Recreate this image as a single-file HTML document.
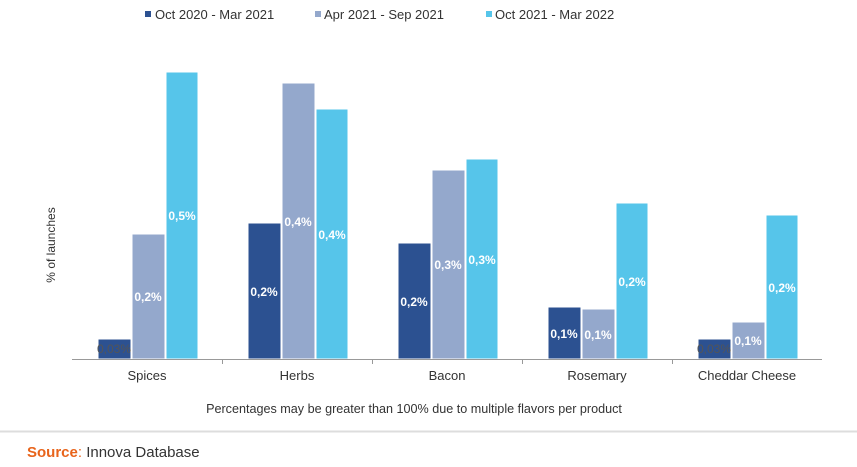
<!DOCTYPE html>
<html><head><meta charset="utf-8"><style>
html,body{margin:0;padding:0;background:#fff;}
svg{display:block;font-family:"Liberation Sans",Arial,sans-serif;}
</style></head><body>
<svg width="857" height="467" viewBox="0 0 857 467">
<g font-size="13" fill="#333">
<rect x="145" y="11" width="6" height="6" fill="#2c5191"/><text x="155" y="19">Oct 2020 - Mar 2021</text>
<rect x="315" y="11" width="6" height="6" fill="#94a8cc"/><text x="324" y="19">Apr 2021 - Sep 2021</text>
<rect x="486" y="11" width="6" height="6" fill="#56c5ea"/><text x="495" y="19">Oct 2021 - Mar 2022</text>
</g>
<text transform="translate(55,245) rotate(-90)" text-anchor="middle" font-size="12" fill="#333">% of launches</text>
<g stroke="#fff" stroke-width="1">
<rect x="98" y="339" width="33" height="20" fill="#2c5191"/>
<rect x="132" y="234" width="33" height="125" fill="#94a8cc"/>
<rect x="166" y="72" width="32" height="287" fill="#56c5ea"/>
<rect x="248" y="223" width="33" height="136" fill="#2c5191"/>
<rect x="282" y="83" width="33" height="276" fill="#94a8cc"/>
<rect x="316" y="109" width="32" height="250" fill="#56c5ea"/>
<rect x="398" y="243" width="33" height="116" fill="#2c5191"/>
<rect x="432" y="170" width="33" height="189" fill="#94a8cc"/>
<rect x="466" y="159" width="32" height="200" fill="#56c5ea"/>
<rect x="548" y="307" width="33" height="52" fill="#2c5191"/>
<rect x="582" y="309" width="33" height="50" fill="#94a8cc"/>
<rect x="616" y="203" width="32" height="156" fill="#56c5ea"/>
<rect x="698" y="339" width="33" height="20" fill="#2c5191"/>
<rect x="732" y="322" width="33" height="37" fill="#94a8cc"/>
<rect x="766" y="215" width="32" height="144" fill="#56c5ea"/>
</g>
<g font-size="12" font-weight="bold" fill="#fff" text-anchor="middle">
<text x="148" y="301">0,2%</text><text x="182" y="220">0,5%</text>
<text x="264" y="296">0,2%</text><text x="298" y="226">0,4%</text><text x="332" y="239">0,4%</text>
<text x="414" y="306">0,2%</text><text x="448" y="269">0,3%</text><text x="482" y="264">0,3%</text>
<text x="564" y="338">0,1%</text><text x="598" y="339">0,1%</text><text x="632" y="286">0,2%</text>
<text x="748" y="345">0,1%</text><text x="782" y="292">0,2%</text>
</g>
<g font-size="12" fill="#555" text-anchor="middle">
<text x="114" y="353">0,03%</text><text x="714" y="353">0,03%</text>
</g>
<line x1="72" y1="359.5" x2="822" y2="359.5" stroke="#999"/>
<g stroke="#999"><line x1="222.5" y1="359" x2="222.5" y2="364"/><line x1="372.5" y1="359" x2="372.5" y2="364"/><line x1="522.5" y1="359" x2="522.5" y2="364"/><line x1="672.5" y1="359" x2="672.5" y2="364"/></g>
<g font-size="13" fill="#333" text-anchor="middle">
<text x="147" y="380">Spices</text><text x="297" y="380">Herbs</text><text x="447" y="380">Bacon</text><text x="597" y="380">Rosemary</text><text x="747" y="380">Cheddar Cheese</text>
</g>
<text x="414" y="413" font-size="12.6" fill="#333" text-anchor="middle">Percentages may be greater than 100% due to multiple flavors per product</text>
<line x1="0" y1="431.5" x2="857" y2="431.5" stroke="#ddd" stroke-width="2"/>
<text x="27" y="457" font-size="15" fill="#333"><tspan fill="#e8641b" font-weight="bold">Source</tspan><tspan fill="#e8641b">:</tspan> Innova Database</text>
</svg>
</body></html>
